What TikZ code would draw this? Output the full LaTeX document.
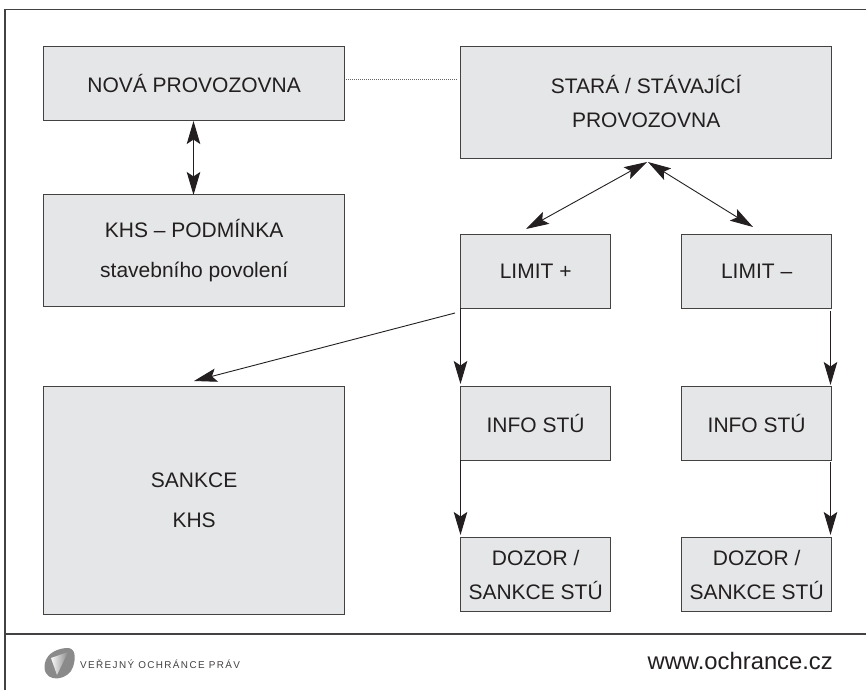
\documentclass[tikz,border=0pt]{standalone}
\usepackage{fontspec}
\setmainfont{Liberation Sans}
\usetikzlibrary{arrows.meta}
\definecolor{boxfill}{HTML}{E5E6E7}
\definecolor{ink}{HTML}{231F20}
\definecolor{lg}{HTML}{8A8A8A}
\tikzset{x=1pt,y=-1pt,
 box/.style={draw=ink!85,line width=1.3pt,fill=boxfill,inner sep=0pt,align=center,font=\fontsize{21}{34}\selectfont,text=ink},
 conn/.style={draw=ink,line width=0.9pt,-{Stealth[length=23pt,width=13.5pt,inset=4.5pt]}},
 bidir/.style={draw=ink,line width=0.9pt,{Stealth[length=23pt,width=13.5pt,inset=4.5pt]}-{Stealth[length=23pt,width=13.5pt,inset=4.5pt]}}}
\newcommand{\bx}[6]{\node[box,minimum width=#4pt-#2pt,minimum height=#5pt-#3pt,anchor=north west] (#1) at (#2,#3) {#6};}
\begin{document}
\begin{tikzpicture}
\useasboundingbox (0,0) rectangle (866,690);
\fill[white] (0,0) rectangle (866,690);
\draw[ink!85,line width=1.3pt] (5,690) -- (5,9.5) -- (866,9.5);
\draw[ink!85,line width=1.3pt] (5,634) -- (866,634);
\bx{nova}{43}{46}{344}{120}{NOVÁ PROVOZOVNA}
\bx{stara}{460}{46}{831}{158}{\raisebox{2.5pt}{STARÁ / STÁVAJÍCÍ}\\\raisebox{2.5pt}{PROVOZOVNA}}
\bx{khs}{43}{194}{344}{306}{KHS – PODMÍNKA\\[6pt]stavebního povolení}
\bx{limp}{460}{234}{610}{308}{LIMIT +}
\bx{limm}{681}{234}{831}{308}{LIMIT –}
\bx{sank}{43}{386}{344}{614}{SANKCE\\[6pt]KHS}
\bx{info}{460}{386}{610}{460}{INFO STÚ}
\bx{infm}{681}{386}{831}{460}{INFO STÚ}
\bx{doz}{460}{537}{610}{611}{DOZOR /\\SANKCE STÚ}
\bx{dom}{681}{537}{831}{611}{DOZOR /\\SANKCE STÚ}
\coordinate (apexa) at (647,162);
\coordinate (apexb) at (648,162);
\coordinate (a1) at (526,229);
\coordinate (a2) at (753,227);
\coordinate (s1) at (455,313);
\coordinate (s2) at (194,381);
\coordinate (r1) at (830.5,311);
\coordinate (r2) at (830.5,385);
\coordinate (r3) at (830.5,462);
\coordinate (r4) at (830.5,535);
\coordinate (l1) at (460.5,308);
\coordinate (l2) at (460.5,384);
\coordinate (l3) at (460.5,460);
\coordinate (l4) at (460.5,535);
\coordinate (v1) at (193.5,121);
\coordinate (v2) at (193.5,195);
\coordinate (d1) at (346,80);
\coordinate (d2) at (458,80);
\draw[line width=1pt,ink!70,dash pattern=on 1pt off 1pt] (d1) -- (d2);
\draw[bidir] (v1) -- (v2);
\draw[bidir] (apexa) -- (a1);
\draw[bidir] (apexb) -- (a2);
\draw[conn] (s1) -- (s2);
\draw[conn] (l1) -- (l2);
\draw[conn] (r1) -- (r2);
\draw[conn] (l3) -- (l4);
\draw[conn] (r3) -- (r4);
\node[anchor=east,inner sep=0pt,font=\fontsize{23.8}{28}\selectfont,text=ink] (web) at (833,661) {www.ochrance.cz};
\node[anchor=west,inner sep=0pt,font=\fontsize{9.9}{12}\selectfont,text=ink!85] (brand) at (80,664) {\addfontfeature{LetterSpace=14}VEŘEJNÝ OCHRÁNCE PRÁV};
\fill[lg] (44.5,668) .. controls (44,655) and (55,649) .. (66,648) .. controls (76,647) and (76,658) .. (73,667) .. controls (69,680) and (46,684) .. (44.5,668) -- cycle;
\begin{scope}
\clip (51,658) -- (68,652) -- (57,675) -- cycle;
\shade[left color=white,right color=lg] (50,650) rectangle (68,675);
\end{scope}
\end{tikzpicture}
\end{document}
